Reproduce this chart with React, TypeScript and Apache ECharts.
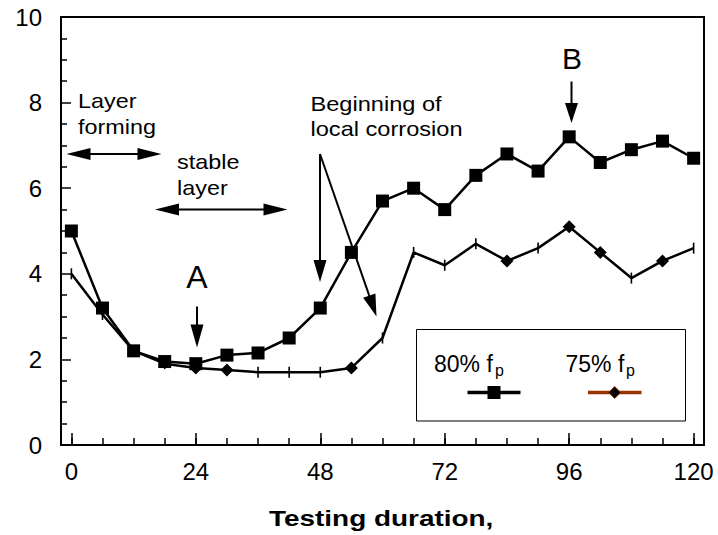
import React, { useEffect, useRef } from "react";
import * as echarts from "echarts";

// ---- data ----
const hours = [0, 6, 12, 18, 24, 30, 36, 42, 48, 54, 60, 66, 72, 78, 84, 90, 96, 102, 108, 114, 120];
const fp80 = [5.0, 3.2, 2.2, 1.95, 1.9, 2.1, 2.15, 2.5, 3.2, 4.5, 5.7, 6.0, 5.5, 6.3, 6.8, 6.4, 7.2, 6.6, 6.9, 7.1, 6.7];
const fp75 = [4.0, 3.05, 2.2, 1.9, 1.8, 1.75, 1.7, 1.7, 1.7, 1.8, 2.5, 4.5, 4.2, 4.7, 4.3, 4.6, 5.1, 4.5, 3.9, 4.3, 4.6];
const diamondHours75 = [24, 30, 54, 84, 96, 102, 114];
const xLabelTicks = [0, 24, 48, 72, 96, 120];
const xMinorTicks = [0, 6, 12, 18, 24, 30, 36, 42, 48, 54, 60, 66, 72, 78, 84, 90, 96, 102, 108, 114, 120];
const seriesNames = ["80% f", "75% f"];
const xTitle = "Testing duration,";

const FONT = "'Liberation Sans', Arial, Helvetica, sans-serif";
const BROWN = "#993300";

function arrowHead(tx: number, ty: number, fx: number, fy: number, len: number, w: number) {
  const dx = tx - fx, dy = ty - fy;
  const d = Math.sqrt(dx * dx + dy * dy);
  const ux = dx / d, uy = dy / d;
  const bx = tx - ux * len, by = ty - uy * len;
  const px = -uy * w / 2, py = ux * w / 2;
  return {
    type: "polygon",
    shape: { points: [[tx, ty], [bx + px, by + py], [bx - px, by - py]] },
    style: { fill: "#000" },
    silent: true,
  };
}

function arrow(x1: number, y1: number, x2: number, y2: number, len = 20, w = 12, lw = 2) {
  const dx = x2 - x1, dy = y2 - y1;
  const d = Math.sqrt(dx * dx + dy * dy);
  const ex = x2 - (dx / d) * (len - 2), ey = y2 - (dy / d) * (len - 2);
  return [
    { type: "line", shape: { x1, y1, x2: ex, y2: ey }, style: { stroke: "#000", lineWidth: lw }, silent: true },
    arrowHead(x2, y2, x1, y1, len, w),
  ];
}

function dblArrow(x1: number, x2: number, y: number, len = 24, w = 12, lw = 2) {
  return [
    { type: "line", shape: { x1: x1 + len - 2, y1: y, x2: x2 - len + 2, y2: y }, style: { stroke: "#000", lineWidth: lw }, silent: true },
    arrowHead(x1, y, x2, y, len, w),
    arrowHead(x2, y, x1, y, len, w),
  ];
}

function txt(text: string, x: number, y: number, size: number, opts: any = {}) {
  return {
    type: "text",
    x,
    y,
    scaleX: opts.scaleX ?? 1,
    silent: true,
    style: {
      text,
      fontSize: size,
      fontFamily: FONT,
      fontWeight: opts.bold ? "bold" : "normal",
      fill: "#000",
      align: opts.align ?? "left",
      verticalAlign: "middle",
    },
  };
}

export default function App() {
  const ref = useRef<HTMLDivElement>(null);
  useEffect(() => {
    if (!ref.current) return;
    const chart = echarts.init(ref.current, null, { renderer: "svg" });

    const s80 = hours.map((h, i) => [h, fp80[i]]);
    const s75 = hours.map((h, i) => {
      const isDia = diamondHours75.indexOf(h) >= 0;
      return {
        value: [h, fp75[i]],
        symbol: isDia ? "diamond" : "rect",
        symbolSize: isDia ? [13, 13] : [1.6, 11],
      };
    });

    const graphic: any[] = [
      // annotations
      txt("Layer", 78, 101, 20, { scaleX: 1.17 }),
      txt("forming", 78, 127, 20, { scaleX: 1.17 }),
      ...dblArrow(66.5, 161.5, 154),
      txt("stable", 177, 162, 20, { scaleX: 1.17 }),
      txt("layer", 177, 188, 20, { scaleX: 1.17 }),
      ...dblArrow(155, 287.5, 209.5),
      txt("Beginning of", 310.5, 104.5, 20, { scaleX: 1.18 }),
      txt("local corrosion", 310.5, 129.5, 20, { scaleX: 1.18 }),
      ...arrow(320, 154, 320, 282, 22, 13),
      ...arrow(320, 154, 376.5, 316.5, 22, 13),
      txt("A", 197, 277, 32, { align: "center" }),
      ...arrow(197, 306.5, 197, 347.5, 23, 13),
      txt("B", 572, 58, 30, { align: "center" }),
      ...arrow(571.5, 81.5, 571.5, 123, 20, 13),
      // x axis title
      txt(xTitle, 269, 518, 22, { bold: true, scaleX: 1.27 }),
      // legend
      {
        type: "rect",
        shape: { x: 416.5, y: 329.5, width: 269, height: 91.5 },
        style: { fill: "#fff", stroke: "#000", lineWidth: 1 },
        silent: true,
      },
      txt(seriesNames[0], 434, 364, 23),
      txt("p", 495, 370, 16),
      txt(seriesNames[1], 565.5, 364, 23),
      txt("p", 626, 370, 16),
      { type: "line", shape: { x1: 467.5, y1: 392.5, x2: 520.5, y2: 392.5 }, style: { stroke: "#000", lineWidth: 3.5 }, silent: true },
      { type: "rect", shape: { x: 487.5, y: 386, width: 13, height: 13 }, style: { fill: "#000" }, silent: true },
      { type: "line", shape: { x1: 588, y1: 392.5, x2: 641.5, y2: 392.5 }, style: { stroke: BROWN, lineWidth: 3.5 }, silent: true },
      {
        type: "polygon",
        shape: { points: [[614.7, 386.5], [620.7, 392.5], [614.7, 398.5], [608.7, 392.5]] },
        style: { fill: "#000", stroke: BROWN, lineWidth: 1 },
        silent: true,
      },
    ];

    chart.setOption({
      animation: false,
      backgroundColor: "#fff",
      grid: {
        left: 61,
        right: 14,
        top: 17,
        bottom: 90,
        show: true,
        borderColor: "#000",
        borderWidth: 2,
        backgroundColor: "transparent",
      },
      xAxis: [
        {
          type: "value",
          min: -2,
          max: 122,
          position: "bottom",
          splitLine: { show: false },
          axisLine: { show: true, onZero: false, lineStyle: { color: "#000", width: 2 } },
          axisTick: { show: true, inside: true, length: 7, customValues: xMinorTicks, lineStyle: { color: "#000", width: 1.5 } },
          axisLabel: {
            customValues: xLabelTicks,
            fontSize: 24,
            fontFamily: FONT,
            color: "#000",
            margin: 14,
          },
        },
        {
          type: "value",
          min: -2,
          max: 122,
          position: "bottom",
          splitLine: { show: false },
          axisLine: { show: false },
          axisTick: { show: true, inside: true, length: 12, customValues: xLabelTicks, lineStyle: { color: "#000", width: 1.5 } },
          axisLabel: { show: false },
        },
      ],
      yAxis: {
        type: "value",
        min: 0,
        max: 10,
        interval: 2,
        splitLine: { show: false },
        axisLine: { show: true, onZero: false, lineStyle: { color: "#000", width: 2 } },
        axisTick: { show: true, inside: true, length: 10, lineStyle: { color: "#000", width: 1.5 } },
        minorTick: { show: true, splitNumber: 4, length: 6, lineStyle: { color: "#000", width: 1.5 } },
        minorSplitLine: { show: false },
        axisLabel: { fontSize: 24, fontFamily: FONT, color: "#000", margin: 19 },
      },
      series: [
        {
          name: seriesNames[1],
          type: "line",
          data: s75,
          lineStyle: { color: "#000", width: 2.5 },
          itemStyle: { color: "#000", borderWidth: 0 },
          showSymbol: true,
          z: 2,
        },
        {
          name: seriesNames[0],
          type: "line",
          data: s80,
          symbol: "rect",
          symbolSize: 13,
          lineStyle: { color: "#000", width: 2.5 },
          itemStyle: { color: "#000", borderWidth: 0 },
          z: 3,
        },
      ],
      graphic,
    });
    return () => chart.dispose();
  }, []);
  return <div ref={ref} style={{ width: 718, height: 535, position: "absolute", left: 0, top: 0 }} />;
}
